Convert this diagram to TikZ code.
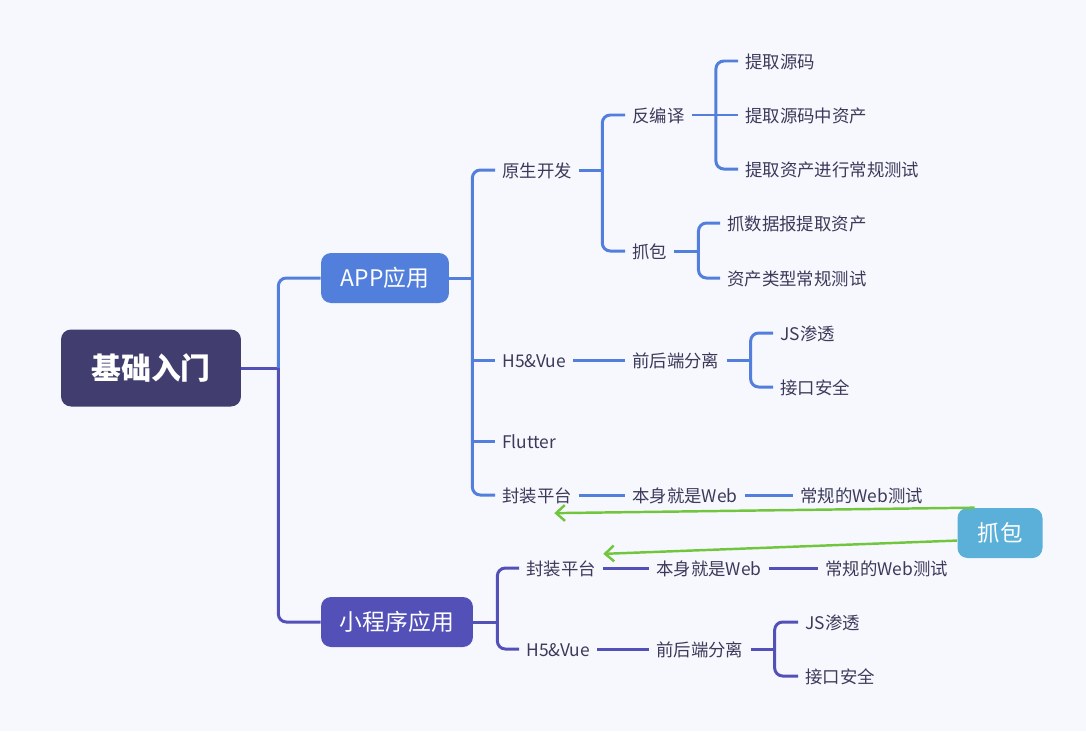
\documentclass[tikz,border=0pt]{standalone}
\usepackage{fontspec}
\setmainfont{Noto Sans CJK SC}
\usetikzlibrary{arrows.meta}

\definecolor{bgcol}{HTML}{F7F8FE}
\definecolor{rootcol}{HTML}{413E6F}
\definecolor{appcol}{HTML}{527FDB}
\definecolor{minicol}{HTML}{5351B8}
\definecolor{grabcol}{HTML}{5AB0D8}
\definecolor{textcol}{HTML}{3B3A5A}
\definecolor{arrowcol}{HTML}{72C63E}

\tikzset{
  topic/.style={rounded corners=0.2cm, text=white, inner sep=0pt, minimum height=1cm},
  leaf/.style={anchor=west, inner xsep=0.14cm, inner ysep=0pt, text=textcol,
    font=\fontsize{9.9}{12}\selectfont, text height=0.92em, text depth=0.08em},
  bluebranch/.style={draw=appcol, line width=1.7pt, rounded corners=0.16cm},
  purplebranch/.style={draw=minicol, line width=1.7pt, rounded corners=0.16cm},
  grabarrow/.style={draw=arrowcol, line width=1.4pt, -{Straight Barb[length=5pt,width=9pt]}}
}

\begin{document}
\begin{tikzpicture}[x=0.02cm, y=-0.02cm]
% background
\fill[bgcol] (0,0) rectangle (1086,731);
\useasboundingbox (0,0) rectangle (1086,731);

% Marking main topics
\node[topic, fill=rootcol, minimum width=3.6cm, minimum height=1.54cm,
  font=\fontsize{17}{20}\selectfont\bfseries] (root) at (151,368) {基础入门};
\node[topic, fill=appcol, minimum width=2.56cm, font=\fontsize{13}{16}\selectfont] (app) at (385,278) {APP应用};
\node[topic, fill=minicol, minimum width=3.04cm, font=\fontsize{13}{16}\selectfont] (mini) at (397,622) {小程序应用};
\node[topic, fill=grabcol, minimum width=1.7cm, font=\fontsize{12.8}{15}\selectfont] (grab) at (1000,533) {抓包};

% Marking APP leaves
\node[leaf] (yuan) at (495,170) {原生开发};
\node[leaf] (fby) at (625,115) {反编译};
\node[leaf] (tq1) at (738,61) {提取源码};
\node[leaf] (tq2) at (738,115) {提取源码中资产};
\node[leaf] (tq3) at (738,169) {提取资产进行常规测试};
\node[leaf] (zb) at (625,251) {抓包};
\node[leaf] (zb1) at (720,223) {抓数据报提取资产};
\node[leaf] (zb2) at (720,278) {资产类型常规测试};
\node[leaf] (h5a) at (495,360) {H5\&Vue};
\node[leaf] (qhd) at (625,360) {前后端分离};
\node[leaf] (js1) at (773,333) {JS渗透};
\node[leaf] (api1) at (773,387) {接口安全};
\node[leaf] (flutter) at (495,441) {Flutter};
\node[leaf] (fz) at (495,495) {封装平台};
\node[leaf] (web) at (625,495) {本身就是Web};
\node[leaf] (webtest) at (793,495) {常规的Web测试};

% Marking mini program leaves
\node[leaf] (fz2) at (519,568) {封装平台};
\node[leaf] (web2) at (649,568) {本身就是Web};
\node[leaf] (webtest2) at (818,568) {常规的Web测试};
\node[leaf] (h5b) at (519,649) {H5\&Vue};
\node[leaf] (qhd2) at (649,649) {前后端分离};
\node[leaf] (js2) at (798,622) {JS渗透};
\node[leaf] (api2) at (798,676) {接口安全};

% Forks
\coordinate (froot) at ([xshift=0.74cm]root.east);
\coordinate (fapp) at ([xshift=0.46cm]app.east);
\coordinate (fyuan) at ([xshift=0.46cm]yuan.east);
\coordinate (ffby) at ([xshift=0.48cm]fby.east);
\coordinate (fzb) at ([xshift=0.48cm]zb.east);
\coordinate (fqhd) at ([xshift=0.48cm]qhd.east);
\coordinate (fmini) at ([xshift=0.48cm]mini.east);
\coordinate (fqhd2) at ([xshift=0.48cm]qhd2.east);

% Drawing root branches
\draw[purplebranch] (root.east) -- (froot);
\draw[bluebranch] (froot) |- (app.west);
\draw[purplebranch] (froot) |- (mini.west);

% Drawing APP branches
\draw[bluebranch] (app.east) -- (fapp);
\draw[bluebranch] (yuan.west) -| (fapp) |- (fz.west);
\draw[bluebranch, sharp corners] (fapp) |- (h5a.west);
\draw[bluebranch, sharp corners] (fapp) |- (flutter.west);

\draw[bluebranch] (yuan.east) -- (fyuan);
\draw[bluebranch] (fby.west) -| (fyuan) |- (zb.west);

\draw[bluebranch] (fby.east) -- (ffby);
\draw[bluebranch] (tq1.west) -| (ffby) |- (tq3.west);
\draw[bluebranch] (ffby) -- (tq2.west);

\draw[bluebranch] (zb.east) -- (fzb);
\draw[bluebranch] (zb1.west) -| (fzb) |- (zb2.west);

\draw[bluebranch] (h5a.east) -- (qhd.west);
\draw[bluebranch] (qhd.east) -- (fqhd);
\draw[bluebranch] (js1.west) -| (fqhd) |- (api1.west);

\draw[bluebranch] (fz.east) -- (web.west);
\draw[bluebranch] (web.east) -- (webtest.west);

% Drawing mini program branches
\draw[purplebranch] (mini.east) -- (fmini);
\draw[purplebranch] (fz2.west) -| (fmini) |- (h5b.west);
\draw[purplebranch] (fz2.east) -- (web2.west);
\draw[purplebranch] (web2.east) -- (webtest2.west);
\draw[purplebranch] (h5b.east) -- (qhd2.west);
\draw[purplebranch] (qhd2.east) -- (fqhd2);
\draw[purplebranch] (js2.west) -| (fqhd2) |- (api2.west);

% Drawing grab arrows
\draw[grabarrow] (grab.135) -- ([xshift=-0.5cm,yshift=-0.18cm]fz.south east);
\draw[grabarrow] (grab.190) -- ([yshift=0.1cm]fz2.north east);
\end{tikzpicture}
\end{document}
